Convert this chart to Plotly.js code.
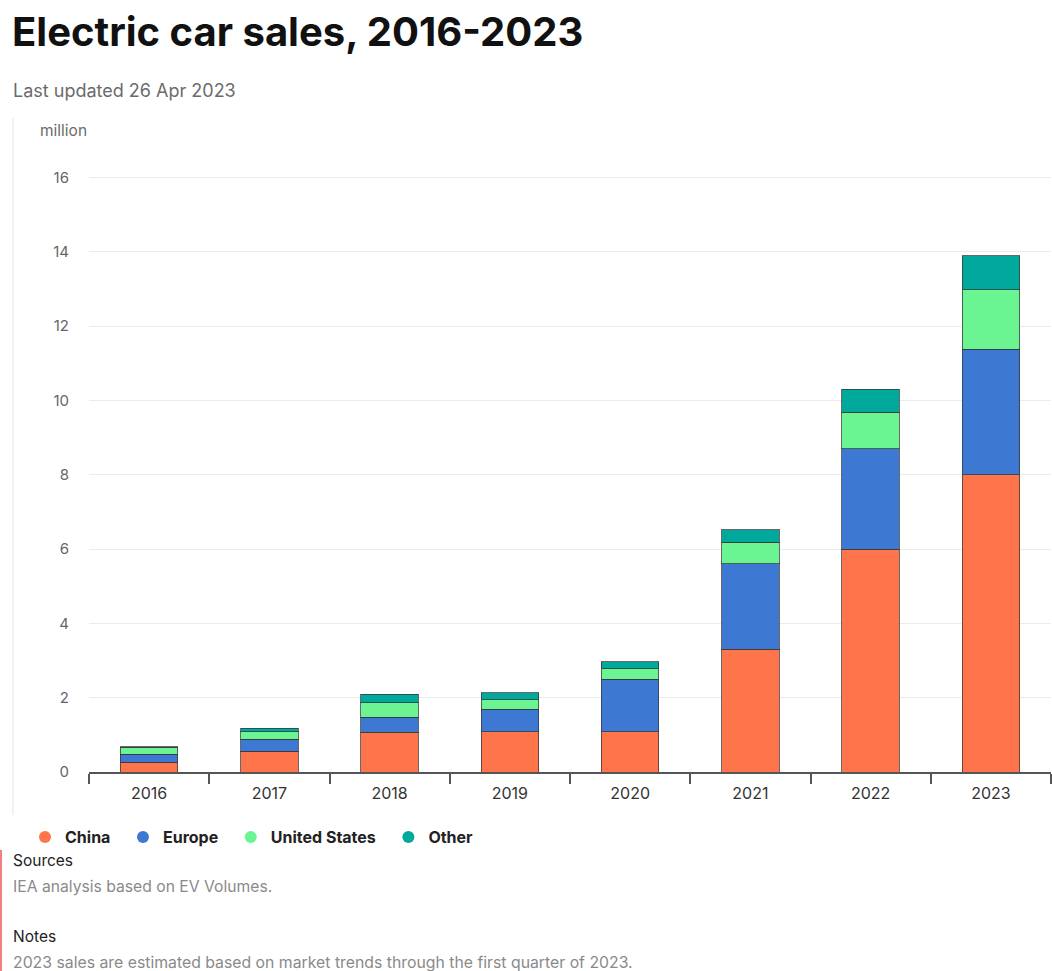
<!DOCTYPE html>
<html>
<head>
<meta charset="utf-8">
<script src="https://cdn.plot.ly/plotly-3.0.1.min.js"></script>
<style>
  html, body { margin: 0; padding: 0; background: #ffffff; }
  #chart { width: 1052px; height: 971px; }
</style>
</head>
<body>
<div id="chart"></div>
<script>
// ---- Data (million electric cars sold) ----
const years = ["2016", "2017", "2018", "2019", "2020", "2021", "2022", "2023"];
const china = [0.26, 0.56, 1.07, 1.08, 1.08, 3.30, 6.00, 8.00];
const europe = [0.22, 0.32, 0.40, 0.61, 1.41, 2.31, 2.70, 3.38];
const unitedStates = [0.18, 0.21, 0.40, 0.26, 0.29, 0.57, 0.99, 1.60];
const other = [0.02, 0.09, 0.22, 0.19, 0.19, 0.34, 0.61, 0.92];

const seriesNames = ["China", "Europe", "United States", "Other"];
const seriesValues = [china, europe, unitedStates, other];
const seriesColors = ["#fe744b", "#3d78d2", "#6af492", "#00a99b"];

const yTicks = [0, 2, 4, 6, 8, 10, 12, 14, 16];

const titleText = "Electric car sales, 2016-2023";
const subtitleText = "Last updated 26 Apr 2023";
const unitText = "million";
const sourcesHead = "Sources";
const sourcesText = "IEA analysis based on EV Volumes.";
const notesHead = "Notes";
const notesText = "2023 sales are estimated based on market trends through the first quarter of 2023.";

// ---- Geometry helpers (pixel -> paper) ----
const W = 1052, H = 971;
const mL = 89, mR = 1, mT = 159, mB = 199;
const pw = W - mL - mR, ph = H - mT - mB;
const px = x => (x - mL) / pw;
const py = y => (H - mB - y) / ph;

const FONT = "Inter, 'Open Sans', sans-serif";

const traces = [];
seriesNames.forEach((name, i) => {
  traces.push({
    type: "bar",
    name: name,
    x: years,
    y: seriesValues[i],
    width: 0.48,
    marker: { color: seriesColors[i], line: { color: "rgba(55,55,55,0.75)", width: 1 } },
    showlegend: false,
    legendgroup: name,
    hoverinfo: "x+y+name"
  });
});
// legend entries with circular markers (trailing spaces widen the gap between entries)
seriesNames.forEach((name, i) => {
  traces.push({
    type: "scatter",
    mode: "markers",
    name: name + "&nbsp;&nbsp;",
    x: [null],
    y: [null],
    marker: { color: seriesColors[i], size: 12, symbol: "circle" },
    showlegend: true,
    legendgroup: name
  });
});

const layout = {
  width: W,
  height: H,
  paper_bgcolor: "#ffffff",
  plot_bgcolor: "#ffffff",
  margin: { l: mL, r: mR, t: mT, b: mB, pad: 0 },
  barmode: "stack",
  font: { family: FONT, color: "#333" },
  title: {
    text: "<b>" + titleText + "</b>",
    xref: "container", yref: "container",
    x: 12 / W, xanchor: "left",
    y: 1 - 32 / H, yanchor: "middle",
    font: { family: FONT, size: 40, color: "#111" }
  },
  xaxis: {
    type: "category",
    categoryorder: "array",
    categoryarray: years,
    tickson: "boundaries",
    ticks: "outside",
    ticklen: 10,
    tickwidth: 2,
    tickcolor: "#555",
    ticklabelstandoff: 6,
    showline: true,
    linecolor: "#555",
    linewidth: 2,
    showgrid: false,
    zeroline: false,
    tickfont: { family: FONT, size: 16, color: "#333" },
    fixedrange: true
  },
  yaxis: {
    range: [0, 16.5],
    tickvals: yTicks,
    ticktext: yTicks.map(String),
    showgrid: true,
    gridcolor: "#ebebeb",
    gridwidth: 1,
    zeroline: false,
    showline: false,
    ticks: "outside",
    ticklen: 16,
    tickcolor: "rgba(0,0,0,0)",
    tickfont: { family: FONT, size: 15, color: "#666" },
    fixedrange: true
  },
  showlegend: true,
  legend: {
    orientation: "h",
    x: px(25), xanchor: "left",
    y: py(820), yanchor: "top",
    font: { family: FONT, size: 16, color: "#222", weight: "bold" },
    bgcolor: "rgba(0,0,0,0)",
    itemclick: false,
    itemdoubleclick: false
  },
  annotations: [
    { text: subtitleText, xref: "paper", yref: "paper", x: px(11), y: py(91), xanchor: "left", yanchor: "middle", showarrow: false, font: { family: FONT, size: 18, color: "#6b6b6b" } },
    { text: unitText, xref: "paper", yref: "paper", x: px(38), y: py(131), xanchor: "left", yanchor: "middle", showarrow: false, font: { family: FONT, size: 15.5, color: "#6b6b6b" } },
    { text: sourcesHead, xref: "paper", yref: "paper", x: px(11), y: py(860), xanchor: "left", yanchor: "middle", showarrow: false, font: { family: FONT, size: 15.5, color: "#222" } },
    { text: sourcesText, xref: "paper", yref: "paper", x: px(11), y: py(886), xanchor: "left", yanchor: "middle", showarrow: false, font: { family: FONT, size: 15.7, color: "#8a8a8a" } },
    { text: notesHead, xref: "paper", yref: "paper", x: px(11), y: py(936), xanchor: "left", yanchor: "middle", showarrow: false, font: { family: FONT, size: 15.5, color: "#222" } },
    { text: notesText, xref: "paper", yref: "paper", x: px(11), y: py(962), xanchor: "left", yanchor: "middle", showarrow: false, font: { family: FONT, size: 15.8, color: "#8a8a8a" } }
  ],
  shapes: [
    { type: "line", xref: "paper", yref: "paper", x0: px(13), x1: px(13), y0: py(118), y1: py(815), line: { color: "#eeeeee", width: 1.5 } },
    { type: "line", xref: "paper", yref: "paper", x0: px(1), x1: px(1), y0: py(850), y1: py(971), line: { color: "#f08080", width: 2 } }
  ]
};

Plotly.newPlot("chart", traces, layout, { displayModeBar: false, staticPlot: true });
</script>
</body>
</html>
